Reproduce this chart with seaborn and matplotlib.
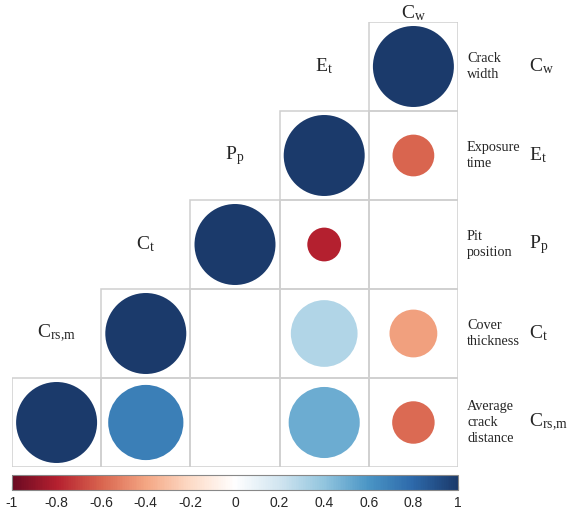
import matplotlib
matplotlib.use("Agg")
import matplotlib.pyplot as plt
import matplotlib.colors as mcolors
import seaborn as sns
import numpy as np
import pandas as pd

# variables, left to right along the columns
symbols = ["C_{rs{,}m}", "C_{t}", "P_{p}", "E_{t}", "C_{w}"]
names = ["Average\ncrack\ndistance", "Cover\nthickness", "Pit\nposition",
         "Exposure\ntime", "Crack\nwidth"]

# lower-triangle correlations (row variable, column variable, r); blank cells omitted
pair_row = [4, 3, 3, 2, 2, 1, 1, 1, 0, 0, 0, 0]
pair_col = [4, 3, 4, 2, 3, 1, 3, 4, 0, 1, 3, 4]
corr = [1.0, 1.0, -0.6, 1.0, -0.8, 1.0, 0.3, -0.42, 1.0, 0.7, 0.5, -0.58]

cbar_ticks = [-1, -0.8, -0.6, -0.4, -0.2, 0, 0.2, 0.4, 0.6, 0.8, 1]
cbar_labels = ["-1", "-0.8", "-0.6", "-0.4", "-0.2", "0", "0.2", "0.4", "0.6", "0.8", "1"]

sns.set_theme(style="white")
plt.rcParams["font.family"] = ["Liberation Serif", "DejaVu Serif"]
plt.rcParams["axes.unicode_minus"] = False

cmap = mcolors.LinearSegmentedColormap.from_list("rdbu2", [
    "#6a0a22", "#b5202f", "#d9654f", "#f4a683", "#fddbc7", "#ffffff",
    "#d1e5f0", "#92c5de", "#4a95c5", "#2d69aa", "#1b3a6b"])

n = len(symbols)
df = pd.DataFrame({
    "x": pair_col,
    "y": [n - 1 - i for i in pair_row],
    "r": corr,
})

W, H = 568, 513
fig = plt.figure(figsize=(W / 100, H / 100), dpi=100)
ax = fig.add_axes([12 / W, (H - 467) / H, 446 / W, 445 / H])

# cell boxes
for i in range(n):
    for j in range(i, n):
        ax.add_patch(plt.Rectangle((j - 0.5, n - 1 - i - 0.5), 1, 1, fill=False,
                                   edgecolor="#cfcfcf", lw=1.1, zorder=1))

sns.scatterplot(data=df, x="x", y="y", hue="r", palette=cmap, hue_norm=(-1, 1),
                size="r", sizes=(280, 3400), size_norm=(-1, 1), legend=False,
                edgecolor="none", ax=ax, zorder=2)

ax.set_xlim(-0.5, n - 0.5)
ax.set_ylim(n - 0.5, -0.5)
ax.set_aspect("auto")
ax.axis("off")

# diagonal labels in the cell above each diagonal cell
for j, s in enumerate(symbols):
    y = n - 1 - j - 1
    if y < 0:
        y = -0.6
    ax.text(j, y, r"$\mathregular{" + s + "}$", ha="center", va="center", fontsize=14)

# right-hand descriptions and symbols
for i in range(n):
    y = n - 1 - i
    ax.text(n - 0.5 + 9 / 89, y, names[i], ha="left", va="center", fontsize=10.3,
            linespacing=1.3)
    ax.text(n - 0.5 + 71 / 89, y, r"$\mathregular{" + symbols[i] + "}$", ha="left",
            va="center", fontsize=14)

# colorbar
cax = fig.add_axes([12 / W, (H - 490) / H, 446 / W, 15 / H])
sm = plt.cm.ScalarMappable(norm=mcolors.Normalize(-1, 1), cmap=cmap)
cb = fig.colorbar(sm, cax=cax, orientation="horizontal")
cb.set_ticks(cbar_ticks)
cb.set_ticklabels(cbar_labels)
cb.outline.set_edgecolor("#888888")
cb.outline.set_linewidth(0.8)
cax.tick_params(axis="x", direction="in", length=3, width=0.8, color="#333333",
                pad=4, labelsize=10)
for t in cax.get_xticklabels():
    t.set_fontfamily(["Liberation Sans", "DejaVu Sans"])

fig.savefig("out.png", dpi=100)
